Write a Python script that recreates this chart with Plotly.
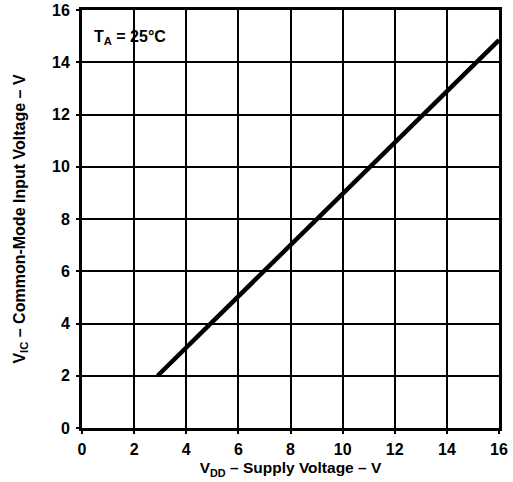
import plotly.graph_objects as go

vdd = [2.9, 16.0]
vic = [2.0, 14.85]
x_ticks = [0, 2, 4, 6, 8, 10, 12, 14, 16]
y_ticks = [0, 2, 4, 6, 8, 10, 12, 14, 16]

font = "Liberation Sans, Arial, sans-serif"

fig = go.Figure()
fig.add_trace(go.Scatter(x=vdd, y=vic, mode="lines",
                         line=dict(color="black", width=4.5), showlegend=False))

axis_common = dict(
    showgrid=True, gridcolor="black", gridwidth=1.6,
    showline=True, linecolor="black", linewidth=2.8, mirror=True,
    zeroline=False, ticks="outside", ticklen=3, tickcolor="black", tickwidth=1.5,
    tickfont=dict(family=font, size=16, color="black", weight="bold"),
    automargin=False,
)

fig.update_xaxes(range=[0, 16], tickvals=x_ticks, ticktext=[str(v) for v in x_ticks],
                 ticklabelstandoff=2,
                 title=dict(text="V<sub>DD</sub> – Supply Voltage – V",
                            font=dict(family=font, size=15.5, color="black", weight="bold"),
                            standoff=6),
                 **axis_common)
fig.update_yaxes(range=[0, 16], tickvals=y_ticks, ticktext=[str(v) for v in y_ticks],
                 ticklabelstandoff=3,
                 title=dict(text="V<sub>IC</sub> – Common-Mode Input Voltage – V",
                            font=dict(family=font, size=16, color="black", weight="bold"),
                            standoff=23),
                 **axis_common)

fig.add_annotation(x=0.38, y=14.95, xref="x", yref="y", xanchor="left", yanchor="middle",
                   text="T<sub>A</sub> = 25°C", showarrow=False,
                   font=dict(family=font, size=16, color="black", weight="bold"))

fig.update_layout(width=513, height=482, margin=dict(l=82, r=14, t=10, b=54),
                  plot_bgcolor="white", paper_bgcolor="white")

fig.write_html("out.html", config={"displayModeBar": False},
               post_script="document.body.style.margin='0';")
